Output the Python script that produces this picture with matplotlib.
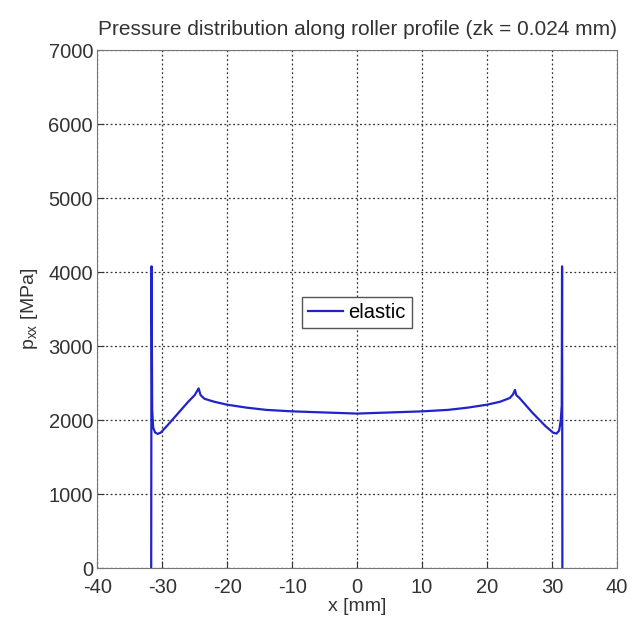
import matplotlib.pyplot as plt

x_left = [-31.7, -31.65, -31.55, -31.4, -31.1, -30.7, -30.2, -29.0, -28.0, -27.0,
          -26.0, -25.0, -24.6, -24.4, -24.1, -23.5, -22.0, -20.0, -17.0, -14.0,
          -10.0, -5.0]
p_left = [0, 4080, 2150, 1900, 1835, 1815, 1835, 1950, 2050, 2150,
          2250, 2340, 2400, 2430, 2340, 2290, 2250, 2210, 2170, 2140,
          2120, 2105]
x_mid = [0.0]
p_mid = [2090]
x_right = [5.0, 10.0, 14.0, 17.0, 20.0, 22.0, 23.5, 24.0, 24.3, 24.5,
           25.0, 26.0, 27.0, 28.0, 29.0, 30.2, 30.7, 31.1, 31.35, 31.5,
           31.55, 31.6]
p_right = [2105, 2120, 2140, 2170, 2210, 2250, 2300, 2350, 2410, 2340,
           2300, 2200, 2100, 2010, 1920, 1830, 1820, 1860, 2000, 2200,
           4080, 0]

x = x_left + x_mid + x_right
p = p_left + p_mid + p_right

plt.rcParams['font.family'] = ['Liberation Sans', 'DejaVu Sans']
plt.rcParams['axes.unicode_minus'] = False

fig = plt.figure(figsize=(6.4, 6.37), dpi=100)
ax = fig.add_axes([0.152, 0.108, 0.812, 0.813])
ax.plot(x, p, color="#2222cc", linewidth=1.6, label="elastic")
ax.set_xlim(-40, 40)
ax.set_ylim(0, 7000)
ax.set_xticks(range(-40, 41, 10))
ax.set_yticks(range(0, 7001, 1000))
ax.grid(True, linestyle=(0, (1.5, 2)), color="#333333", linewidth=0.9)
ax.tick_params(direction="in", labelsize=14.5, colors="#333333", length=5)
ax.tick_params(axis="x", pad=7)
ax.tick_params(axis="y", pad=3)
for s in ax.spines.values():
    s.set_color("#777777")
ax.set_xlabel("x [mm]", fontsize=14, color="#333333", labelpad=1)
ax.set_ylabel("p$_{\\mathregular{xx}}$ [MPa]", fontsize=14, color="#333333", labelpad=6)
ax.set_title("Pressure distribution along roller profile (zk = 0.024 mm)",
             fontsize=15, color="#333333", pad=11)
leg = ax.legend(loc="center", bbox_to_anchor=(0.5, 0.494), fontsize=14.5,
                fancybox=False, framealpha=1, edgecolor="#555555",
                handlelength=1.7, handletextpad=0.3, borderpad=0.3)
fig.savefig("out.png", dpi=100)
